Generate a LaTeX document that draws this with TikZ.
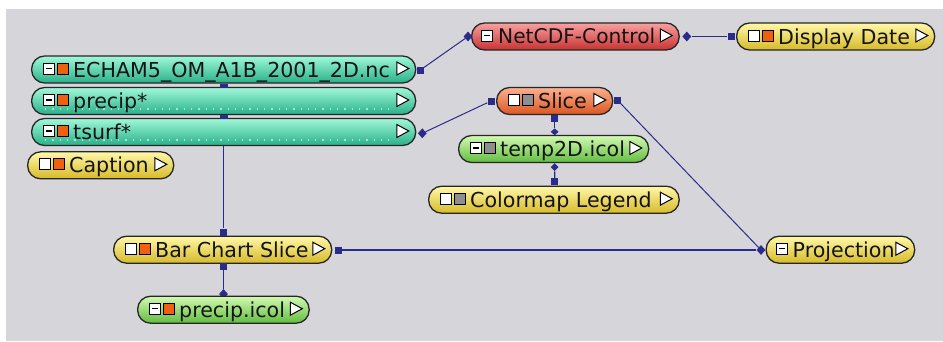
\documentclass[tikz,border=0pt]{standalone}
\usepackage{fontspec}
\setmainfont{DejaVu Sans}
\usetikzlibrary{shapes.geometric,calc}
\definecolor{bgc}{HTML}{D6D6DA}
\definecolor{navy}{HTML}{2B2B8C}
\definecolor{outl}{HTML}{262626}
\definecolor{teaT}{HTML}{A0F8DA}
\definecolor{teaB}{HTML}{28B088}
\definecolor{yelT}{HTML}{FFF8A8}
\definecolor{yelB}{HTML}{D6BA28}
\definecolor{redT}{HTML}{F8A0A0}
\definecolor{redB}{HTML}{C83232}
\definecolor{oraT}{HTML}{FBB090}
\definecolor{oraB}{HTML}{DC5620}
\definecolor{grnT}{HTML}{D2FAB2}
\definecolor{grnB}{HTML}{62BC40}
\definecolor{icor}{HTML}{F06010}
\definecolor{icgr}{HTML}{8E8E8E}
\pgfdeclarelayer{back}
\pgfdeclarelayer{lines}
\pgfsetlayers{back,lines,main}
\tikzset{
  pill/.style={draw=outl, line width=1.3pt, rounded corners=13pt, minimum height=27pt, inner sep=0pt, anchor=west, rectangle},
  ftea/.style={top color=teaT, bottom color=teaB},
  fyel/.style={top color=yelT, bottom color=yelB},
  fred/.style={top color=redT, bottom color=redB},
  fora/.style={top color=oraT, bottom color=oraB},
  fgrn/.style={top color=grnT, bottom color=grnB},
  lbl/.style={anchor=base west, inner sep=0pt, font=\fontsize{20.6}{24}\selectfont, text=black!92},
  sqm/.style={rectangle, fill=navy, minimum size=7pt, inner sep=0pt, draw=none},
  dia/.style={diamond, fill=navy, minimum width=9pt, minimum height=10pt, inner sep=0pt, draw=none},
  conn/.style={draw=navy, line width=1pt},
}
\newcommand\icb[3]{\draw[line width=0.9pt, draw=black, fill=#3] ($(#1.west)+(#2,-6.5)$) rectangle ($(#1.west)+(#2+11,4.5)$);}
\newcommand\icm[2]{\icb{#1}{#2}{white}\draw[line width=1.2pt] ($(#1.west)+(#2+2.5,-1)$) -- ($(#1.west)+(#2+8.5,-1)$);}
\newcommand\trig[1]{\draw[line width=1pt, draw=black, fill=white] ($(#1.east)+(-19.5,-7.5)$) -- ($(#1.east)+(-7.5,-1)$) -- ($(#1.east)+(-19.5,5.5)$) -- cycle;}
\begin{document}
\begin{tikzpicture}[x=1pt, y=-1pt]
\useasboundingbox (0,0) rectangle (943,341);
\begin{pgfonlayer}{back}
  \fill[white] (0,0) rectangle (943,341);
  \fill[bgc] (6,9.3) rectangle (943,341);
\end{pgfonlayer}

% nodes
\node[pill, ftea, minimum width=384pt] (echam) at (31,69.5) {};
\node[pill, ftea, minimum width=384pt] (precip) at (31,101) {};
\node[pill, ftea, minimum width=384pt] (tsurf) at (31,132) {};
\node[pill, fyel, minimum width=146pt] (caption) at (27,165.3) {};
\node[pill, fred, minimum width=207.5pt] (netcdf) at (471,36.5) {};
\node[pill, fyel, minimum width=198pt] (display) at (736,36.5) {};
\node[pill, fora, minimum width=116pt] (slice) at (496,101) {};
\node[pill, fgrn, minimum width=190pt] (temp) at (458,149) {};
\node[pill, fyel, minimum width=250.5pt] (cmap) at (428,199.7) {};
\node[pill, fyel, minimum width=218pt] (bar) at (113,249.7) {};
\node[pill, fyel, minimum width=148.5pt] (proj) at (765.5,249.7) {};
\node[pill, fgrn, minimum width=171.5pt] (picol) at (137,309.7) {};

% dotted highlights on the long bars
\foreach \n in {precip,tsurf}{
  \draw[white, opacity=0.55, line width=1.3pt, dash pattern=on 1.3pt off 6pt] ($(\n.west)+(14,8)$) -- ($(\n.east)+(-24,8)$);
}

% icons
\icm{echam}{12.5}\icb{echam}{26.5}{icor}
\icm{precip}{12.5}\icb{precip}{26.5}{icor}
\icm{tsurf}{12.5}\icb{tsurf}{26.5}{icor}
\icb{caption}{12.5}{white}\icb{caption}{26.5}{icor}
\icm{netcdf}{10.5}
\icb{display}{12.5}{white}\icb{display}{26.5}{icor}
\icb{slice}{12.5}{white}\icb{slice}{26.5}{icgr}
\icm{temp}{12.5}\icb{temp}{26.5}{icgr}
\icb{cmap}{12.5}{white}\icb{cmap}{26.5}{icgr}
\icb{bar}{12.5}{white}\icb{bar}{26.5}{icor}
\icm{proj}{10.5}
\icm{picol}{12.5}\icb{picol}{26.5}{icor}

% triangles
\foreach \n in {echam,precip,tsurf,caption,netcdf,display,slice,temp,cmap,bar,proj,picol}{\trig{\n}}

% labels
\node[lbl] (t-echam) at ($(echam.west)+(42,7.5)$) {ECHAM5\_OM\_A1B\_2001\_2D.nc};
\node[lbl] (t-precip) at ($(precip.west)+(42,7.5)$) {precip*};
\node[lbl] (t-tsurf) at ($(tsurf.west)+(42,7.5)$) {tsurf*};
\node[lbl] (t-caption) at ($(caption.west)+(42,7.5)$) {Caption};
\node[lbl, font=\fontsize{20.2}{24}\selectfont] (t-netcdf) at ($(netcdf.west)+(27,7.4)$) {NetCDF-Control};
\node[lbl] (t-display) at ($(display.west)+(42,7.5)$) {Display Date};
\node[lbl] (t-slice) at ($(slice.west)+(42,7.5)$) {Slice};
\node[lbl] (t-temp) at ($(temp.west)+(42,7.5)$) {temp2D.icol};
\node[lbl] (t-cmap) at ($(cmap.west)+(42,7.5)$) {Colormap Legend};
\node[lbl] (t-bar) at ($(bar.west)+(42,7.5)$) {Bar Chart Slice};
\node[lbl] (t-proj) at ($(proj.west)+(27,7.5)$) {Projection};
\node[lbl] (t-picol) at ($(picol.west)+(42,7.5)$) {precip.icol};

% port markers
\node[sqm] (s-echam) at ($(echam.east)+(4,0.5)$) {};
\node[dia] (d-netcdf) at ($(netcdf.west)+(-3,0)$) {};
\node[dia] (d-netout) at ($(netcdf.east)+(7,0)$) {};
\node[sqm] (s-display) at ($(display.west)+(-5,0)$) {};
\node[sqm] (s-slicel) at ($(slice.west)+(-5,0)$) {};
\node[dia] (d-tsurf) at ($(tsurf.east)+(6,1.3)$) {};
\node[sqm] (s-slicer) at ($(slice.east)+(4,-1)$) {};
\node[dia] (d-proj) at ($(proj.west)+(-4.5,0.3)$) {};
\node[sqm] (s-barr) at ($(bar.east)+(6,0.3)$) {};
\node[sqm] (s-bart) at (223.5,232) {};
\node[sqm] (s-barb) at (223.5,266.3) {};
\node[sqm] (s-sliceb) at ($(slice.south)+(0,3)$) {};
\node[dia, minimum width=8pt, minimum height=7pt] (d-temp) at ($(temp.north)+(1,-3)$) {};
\node[dia, minimum width=8pt, minimum height=8pt] (d-tempb) at ($(temp.south)+(1,4)$) {};
\node[sqm] (s-cmap) at ($(cmap.north)+(1,-4)$) {};
\node[sqm, minimum width=8pt, minimum height=4pt] (m-ep) at (224,85.5) {};
\node[sqm, minimum width=8pt, minimum height=4pt] (m-pt) at (224,116.5) {};
\coordinate (tsb) at (223.5,145.2);

\begin{pgfonlayer}{lines}
  \node[dia] (d-picol) at (223.5,294) {};
  \draw[conn] (s-echam) -- (d-netcdf);
  \draw[conn, line width=1.3pt] (d-netout) -- (s-display);
  \draw[conn] (s-slicel) -- (d-tsurf);
  \draw[conn] (s-slicer) -- (d-proj);
  \draw[conn, line width=1.3pt] (s-barr) -- (d-proj);
  \draw[conn] (tsb) -- (s-bart);
  \draw[conn, line width=1.2pt] (s-barb) -- (d-picol);
  \draw[conn, line width=1.2pt] (s-sliceb) -- (d-temp);
  \draw[conn, line width=1.2pt] (d-tempb) -- (s-cmap);
\end{pgfonlayer}
\end{tikzpicture}
\end{document}
